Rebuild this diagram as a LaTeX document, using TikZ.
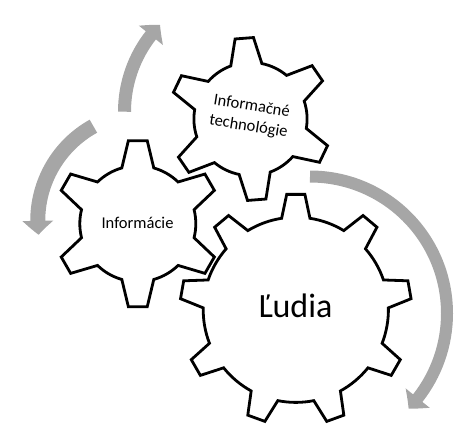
\documentclass[tikz,border=0pt]{standalone}
\usepackage{fontspec}
\setmainfont{Carlito}
\usetikzlibrary{arrows.meta,bending}
\definecolor{arrowgray}{RGB}{166,166,166}
\begin{document}
\begin{tikzpicture}[x=1pt,y=1pt,
	gearline/.style={draw=black,line width=2.8pt,fill=white},
	cyclearrow/.style={draw=arrowgray,line width=#1,-{Triangle[bend,length=14pt,width=30pt]}},
	gearlabel/.style={font=\fontsize{16.5}{20.5}\selectfont,align=center}]
		\useasboundingbox (0,0) rectangle (474,-442);
		
		% turning arrows
		\draw[cyclearrow=13pt] (124.5,-111.7) arc[start angle=180,end angle=135.5,radius=124];
		\draw[cyclearrow=15pt] (93.4,-126.2) arc[start angle=119,end angle=187.5,radius=108];
		\draw[cyclearrow=12pt] (310,-176.5) arc[start angle=90,end angle=-44,radius=137];
		
		% Ludia (9 teeth)
		\draw[gearline,shift={(295.8,-309.8)}] (90-8.8:92.6)
			\foreach \k in {0,...,8}{ -- (90+40*\k-4.5:115.8) -- (90+40*\k+4.5:115.8) -- (90+40*\k+8.8:92.6)
			arc[start angle=90+40*\k+8.8,end angle=90+40*\k+31.2,radius=92.6]} -- cycle;
		
		% Informacne technologie (6 teeth)
		\draw[gearline,shift={(250.5,-119)}] (94.4-16:56.6)
			\foreach \k in {0,...,5}{ -- (94.4+60*\k-6.5:81.5) -- (94.4+60*\k+6.5:81.5) -- (94.4+60*\k+16:56.6)
			arc[start angle=94.4+60*\k+16,end angle=94.4+60*\k+44,radius=56.6]} -- cycle;
		
		% Informacie (6 teeth)
		\draw[gearline,shift={(137.8,-223.7)}] (90-16:58)
			\foreach \k in {0,...,5}{ -- (90+60*\k-6.5:83.5) -- (90+60*\k+6.5:83.5) -- (90+60*\k+16:58)
			arc[start angle=90+60*\k+16,end angle=90+60*\k+44,radius=58]} -- cycle;
		
		\node[gearlabel,rotate=-9] (tech) at (250,-116.7) {Informačné\\technológie};
		\node[gearlabel,anchor=base] (info) at (137.5,-228.3) {Informácie};
		\node[font=\fontsize{34}{40}\selectfont,anchor=base] (ludia) at (295.3,-317.7) {Ľudia};
	\end{tikzpicture}
\end{document}
